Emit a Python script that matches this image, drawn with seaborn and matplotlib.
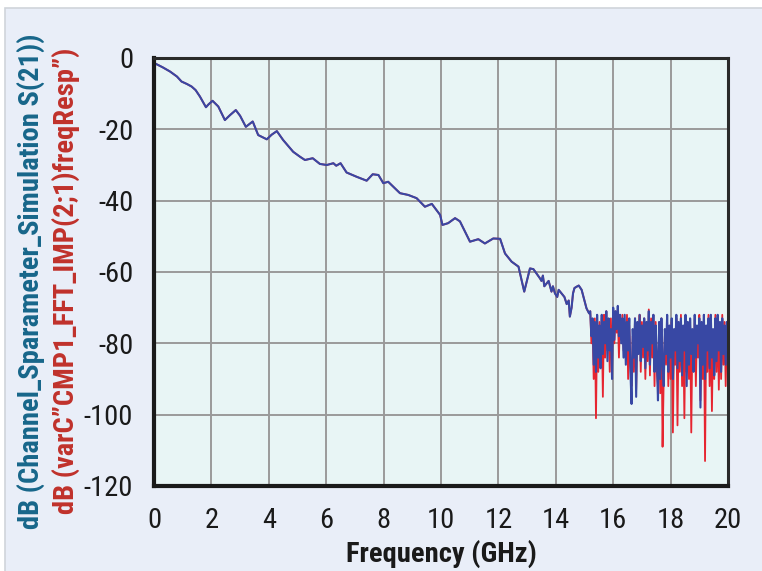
import numpy as np
import pandas as pd
import matplotlib
matplotlib.use("Agg")
import matplotlib.pyplot as plt
import seaborn as sns
from matplotlib.patches import Rectangle

# ---------------- data ----------------
smooth_freq = [0.03, 0.3, 0.56, 0.8, 0.96, 1.15, 1.31, 1.45, 1.6, 1.81, 1.9, 2.04, 2.24,
               2.47, 2.65, 2.85, 3.0, 3.2, 3.44, 3.63, 3.93, 4.1, 4.28, 4.5, 4.85, 5.09,
               5.26, 5.53, 5.78, 6.02, 6.25, 6.35, 6.5, 6.71, 7.06, 7.41, 7.62, 7.82, 7.99,
               8.16, 8.57, 8.86, 9.15, 9.44, 9.68, 9.97, 10.05, 10.25, 10.49, 10.66, 11.01,
               11.3, 11.53, 11.82, 12.06, 12.23, 12.46, 12.7, 12.9, 13.1, 13.22, 13.45,
               13.5, 13.55, 13.6, 13.68, 13.75, 13.85, 13.9, 13.97, 14.05, 14.1, 14.2, 14.3,
               14.38, 14.45, 14.49, 14.55, 14.6, 14.65, 14.73, 14.8, 14.9, 15.07, 15.16]
smooth_db = [-1.5, -2.6, -3.8, -5.2, -6.6, -7.3, -8.0, -9.0, -10.8, -13.8, -13.0, -12.0, -13.6,
             -17.4, -16.0, -14.6, -16.2, -19.3, -17.8, -21.6, -22.8, -21.5, -20.5, -23.0, -26.3,
             -27.7, -28.6, -28.1, -29.7, -30.0, -29.5, -30.2, -29.5, -32.1, -33.3, -34.4, -32.6,
             -32.8, -35.1, -34.7, -37.9, -38.4, -39.3, -41.7, -40.9, -44.0, -46.8, -46.3, -44.9,
             -45.8, -51.5, -50.8, -52.0, -50.6, -50.7, -54.8, -57.1, -58.5, -65.5, -59.0, -59.2,
             -61.8, -62.5, -61.0, -64.0, -63.2, -62.5, -65.5, -64.0, -66.0, -67.0, -65.0, -66.0,
             -67.0, -69.0, -68.0, -72.5, -70.0, -66.0, -64.5, -64.1, -63.8, -65.0, -70.2, -71.6]

noise_start, noise_step = 15.20, 0.04
noise_blue_db = [
    -71, -78, -73, -86, -74, -88, -72, -84, -75, -87,
    -72, -83, -74, -80, -71, -85, -73, -82, -76, -90,
    -70, -79, -71, -76, -69.5, -78, -72, -80, -73, -84,
    -72, -86, -74, -82, -73, -88, -97, -76, -84, -73,
    -95, -74, -83, -72, -85, -75, -81, -73, -87, -74,
    -82, -71, -86, -74, -80, -72, -88, -75, -84, -96,
    -74, -90, -73, -86, -92, -76, -83, -72, -88, -75,
    -84, -73, -90, -76, -82, -72, -87, -74, -85, -73,
    -89, -75, -82, -72, -92, -74, -86, -73, -83, -76,
    -88, -72, -84, -75, -80, -73, -98, -74, -86, -72,
    -90, -75, -82, -73, -87, -72, -84, -76, -89, -73,
    -85, -72, -82, -74, -88, -73, -83, -75, -86, -74, -80]
noise_red_db = [
    -71, -80, -74, -90, -73, -101, -75, -88, -74, -86,
    -73, -95, -72, -84, -71, -82, -75, -88, -73, -86,
    -71, -80, -71, -77, -72, -84, -73, -79, -72, -82,
    -74, -84, -72, -90, -75, -86, -92, -78, -88, -73,
    -93, -76, -80, -72, -88, -74, -84, -73, -90, -76,
    -85, -70.5, -89, -73, -84, -72, -92, -74, -88, -92,
    -76, -94, -73, -109, -90, -78, -86, -74, -92, -77,
    -90, -74, -105, -78, -86, -73, -103, -75, -88, -72,
    -92, -76, -101, -73, -88, -75, -90, -74, -105, -77,
    -86, -73, -92, -76, -84, -72, -96, -75, -90, -73,
    -113, -76, -88, -72, -92, -74, -99, -77, -90, -72,
    -88, -73, -93, -75, -90, -72, -86, -74, -92, -76, -84]

x_ticks = [0, 2, 4, 6, 8, 10, 12, 14, 16, 18, 20]
y_ticks = [0, -20, -40, -60, -80, -100, -120]

# ---------------- build frames ----------------
noise_freq = [round(noise_start + noise_step * i, 2) for i in range(len(noise_blue_db))]
blue = pd.DataFrame({"f": smooth_freq + noise_freq, "db": smooth_db + noise_blue_db})
red = pd.DataFrame({"f": smooth_freq + noise_freq, "db": smooth_db + noise_red_db})

# ---------------- style ----------------
sns.set_theme(style="white")
FAM = ["Roboto Condensed", "DejaVu Sans"]
plt.rcParams["font.family"] = FAM
plt.rcParams["axes.unicode_minus"] = False

fig = plt.figure(figsize=(7.62, 5.71), dpi=100)
fig.patch.set_facecolor("white")
bg = Rectangle((5 / 762, -0.01), 1, 1.01 - 8 / 571, transform=fig.transFigure,
               facecolor="#e9eef8", edgecolor="#d0d4da", linewidth=1.2, zorder=-10)
fig.add_artist(bg)

ax = fig.add_axes([154 / 762, 1 - 486 / 571, 574 / 762, 428 / 571])
ax.set_zorder(1)
ax.set_facecolor("#e8f5f5")

sns.lineplot(data=red, x="f", y="db", ax=ax, color="#e62530", linewidth=1.3,
             estimator=None, sort=False)
sns.lineplot(data=blue, x="f", y="db", ax=ax, color="#3848a4", linewidth=1.5,
             estimator=None, sort=False)

ax.set_xlim(0, 20)
ax.set_ylim(-120, 0)
ax.set_xticks(x_ticks)
ax.set_yticks(y_ticks)
ax.set_xticklabels([str(v) for v in x_ticks])
ax.set_yticklabels([str(v) for v in y_ticks])
ax.grid(True, color="#9a9a9a", linewidth=1.4)
ax.set_axisbelow(True)
for side in ["left", "bottom"]:
    ax.spines[side].set_linewidth(3.0)
    ax.spines[side].set_color("#1a1a1a")
for side in ["top", "right"]:
    ax.spines[side].set_linewidth(2.2)
    ax.spines[side].set_color("#2a2a2a")
ax.tick_params(axis="both", direction="out", length=9, width=1.5, color="#1a1a1a",
               labelsize=20.5, labelcolor="#1a1a1a", pad=6)
ax.set_xlabel("Frequency (GHz)", fontsize=20.5, fontweight="bold", color="#1a1a1a", labelpad=4)
ax.set_ylabel("")

fig.text(31 / 762, 0.508, "dB (Channel_Sparameter_Simulation S(21))", rotation=90,
         ha="center", va="center", fontsize=20.5, fontweight="bold", color="#17668a")
fig.text(66 / 762, 0.508, "dB (varC\u201dCMP1_FFT_IMP(2;1)freqResp\u201d)", rotation=90,
         ha="center", va="center", fontsize=20.5, fontweight="bold", color="#c0312b")

fig.savefig("out.png", dpi=100)
